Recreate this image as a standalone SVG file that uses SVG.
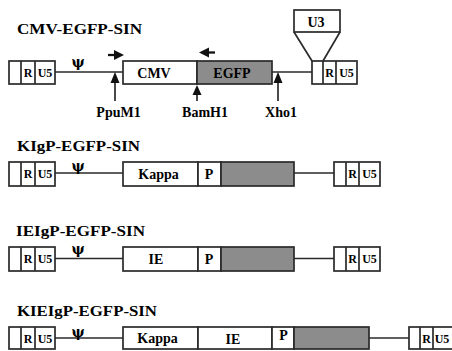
<svg xmlns="http://www.w3.org/2000/svg" width="452" height="351" viewBox="0 0 452 351">
<style>
.t{font-family:"Liberation Serif","Times New Roman",serif;font-weight:bold;fill:#000}
.title{font-size:15px}
.lbl{font-size:14px}
.ltr{font-size:12px}
.psi{font-family:"DejaVu Serif","Liberation Serif",serif;font-weight:bold;font-size:14px;fill:#000}
.box{fill:#fff;stroke:#2a2a2a;stroke-width:1.7}
.gfp{fill:#8c8c8c;stroke:#2a2a2a;stroke-width:1.7}
.ln{stroke:#2a2a2a;stroke-width:1.7;fill:none}
.pr{stroke:#111;stroke-width:2.3;fill:none}
.head{fill:#111}
</style>
<rect width="452" height="351" fill="#fff"/>

<!-- Titles -->
<g id="titles">
<text class="t title" x="17" y="34" textLength="125" lengthAdjust="spacingAndGlyphs">CMV-EGFP-SIN</text>
<text class="t title" x="17" y="151" textLength="123" lengthAdjust="spacingAndGlyphs">KIgP-EGFP-SIN</text>
<text class="t title" x="16" y="236" textLength="129" lengthAdjust="spacingAndGlyphs">IEIgP-EGFP-SIN</text>
<text class="t title" x="17" y="316" textLength="140" lengthAdjust="spacingAndGlyphs">KIEIgP-EGFP-SIN</text>
</g>

<!-- Connectors: backbone lines and arrows -->
<g id="connectors">
<line class="ln" x1="55" y1="72" x2="123" y2="72"/>
<line class="ln" x1="272" y1="72" x2="312" y2="72"/>
<line class="ln" x1="55" y1="173" x2="123" y2="173"/>
<line class="ln" x1="294" y1="173" x2="334" y2="173"/>
<line class="ln" x1="55" y1="258.5" x2="123" y2="258.5"/>
<line class="ln" x1="294" y1="258.5" x2="334" y2="258.5"/>
<line class="ln" x1="55" y1="338" x2="123" y2="338"/>
<line class="ln" x1="369" y1="338" x2="409" y2="338"/>
<!-- U3 expansion -->
<line class="ln" x1="294" y1="32" x2="312" y2="61"/>
<line class="ln" x1="340" y1="32" x2="323" y2="61"/>
<!-- primer arrows -->
<line class="pr" x1="108" y1="55" x2="117" y2="55"/>
<path class="head" d="M124,55 L114,50 L114,60 Z"/>
<line class="pr" x1="215" y1="52.5" x2="206" y2="52.5"/>
<path class="head" d="M199,52.5 L209,47.5 L209,57.5 Z"/>
<!-- restriction sites -->
<line class="ln" x1="115" y1="101" x2="115" y2="80"/>
<path class="head" d="M115,72 L110.5,83 L119.5,83 Z"/>
<line class="ln" x1="197" y1="101" x2="197" y2="92"/>
<path class="head" d="M197,85 L192.5,95 L201.5,95 Z"/>
<line class="ln" x1="278" y1="101" x2="278" y2="80"/>
<path class="head" d="M278,72 L273.5,83 L282.5,83 Z"/>
</g>

<!-- Row 1: CMV-EGFP-SIN -->
<g id="ltr5-1">
<rect class="box" x="9" y="61" width="46" height="23"/>
<line class="ln" x1="21" y1="61" x2="21" y2="84"/>
<line class="ln" x1="35" y1="61" x2="35" y2="84"/>
<text class="t ltr" x="28" y="76.5" text-anchor="middle">R</text>
<text class="t ltr" x="45" y="76.5" text-anchor="middle">U5</text>
</g>
<g id="psi-1"><text class="psi" x="78" y="66.5" text-anchor="middle">ψ</text></g>
<g id="cmv-1">
<rect class="box" x="123" y="61" width="74" height="23"/>
<text class="t lbl" x="154" y="77.5" text-anchor="middle">CMV</text>
</g>
<g id="egfp-1">
<rect class="gfp" x="197" y="61" width="75" height="23"/>
<text class="t lbl" x="232" y="77.5" text-anchor="middle">EGFP</text>
</g>
<g id="ltr3-1">
<rect class="box" x="312" y="61" width="45" height="23"/>
<line class="ln" x1="323" y1="61" x2="323" y2="84"/>
<line class="ln" x1="336" y1="61" x2="336" y2="84"/>
<text class="t ltr" x="329.5" y="76.5" text-anchor="middle">R</text>
<text class="t ltr" x="346.5" y="76.5" text-anchor="middle">U5</text>
</g>
<g id="u3">
<rect class="box" x="294" y="10" width="46" height="22"/>
<text class="t lbl" x="316" y="26.5" text-anchor="middle">U3</text>
</g>
<g id="sites">
<text class="t lbl" x="118.5" y="117" text-anchor="middle">PpuM1</text>
<text class="t lbl" x="205" y="117" text-anchor="middle">BamH1</text>
<text class="t lbl" x="281" y="117" text-anchor="middle">Xho1</text>
</g>

<!-- Row 2: KIgP-EGFP-SIN -->
<g id="ltr5-2">
<rect class="box" x="9" y="162" width="46" height="24"/>
<line class="ln" x1="21" y1="162" x2="21" y2="186"/>
<line class="ln" x1="35" y1="162" x2="35" y2="186"/>
<text class="t ltr" x="28" y="177.5" text-anchor="middle">R</text>
<text class="t ltr" x="45" y="177.5" text-anchor="middle">U5</text>
</g>
<g id="psi-2"><text class="psi" x="78" y="170.5" text-anchor="middle">ψ</text></g>
<g id="kappa-2">
<rect class="box" x="123" y="162" width="75" height="24"/>
<text class="t lbl" x="158.5" y="179" text-anchor="middle">Kappa</text>
</g>
<g id="p-2">
<rect class="box" x="198" y="162" width="23" height="24"/>
<text class="t lbl" x="209" y="179" text-anchor="middle">P</text>
</g>
<g id="egfp-2"><rect class="gfp" x="221" y="162" width="73" height="24"/></g>
<g id="ltr3-2">
<rect class="box" x="334" y="162" width="46" height="24"/>
<line class="ln" x1="346" y1="162" x2="346" y2="186"/>
<line class="ln" x1="359" y1="162" x2="359" y2="186"/>
<text class="t ltr" x="352.5" y="177.5" text-anchor="middle">R</text>
<text class="t ltr" x="369.5" y="177.5" text-anchor="middle">U5</text>
</g>

<!-- Row 3: IEIgP-EGFP-SIN -->
<g id="ltr5-3">
<rect class="box" x="9" y="247" width="46" height="24"/>
<line class="ln" x1="21" y1="247" x2="21" y2="271"/>
<line class="ln" x1="35" y1="247" x2="35" y2="271"/>
<text class="t ltr" x="28" y="262.5" text-anchor="middle">R</text>
<text class="t ltr" x="45" y="262.5" text-anchor="middle">U5</text>
</g>
<g id="psi-3"><text class="psi" x="78" y="254" text-anchor="middle">ψ</text></g>
<g id="ie-3">
<rect class="box" x="123" y="247" width="75" height="24"/>
<text class="t lbl" x="156" y="264" text-anchor="middle">IE</text>
</g>
<g id="p-3">
<rect class="box" x="198" y="247" width="23" height="24"/>
<text class="t lbl" x="209" y="264" text-anchor="middle">P</text>
</g>
<g id="egfp-3"><rect class="gfp" x="221" y="247" width="73" height="24"/></g>
<g id="ltr3-3">
<rect class="box" x="334" y="247" width="46" height="24"/>
<line class="ln" x1="346" y1="247" x2="346" y2="271"/>
<line class="ln" x1="359" y1="247" x2="359" y2="271"/>
<text class="t ltr" x="352.5" y="262.5" text-anchor="middle">R</text>
<text class="t ltr" x="369.5" y="262.5" text-anchor="middle">U5</text>
</g>

<!-- Row 4: KIEIgP-EGFP-SIN -->
<g id="ltr5-4">
<rect class="box" x="9" y="327" width="46" height="22"/>
<line class="ln" x1="21" y1="327" x2="21" y2="349"/>
<line class="ln" x1="35" y1="327" x2="35" y2="349"/>
<text class="t ltr" x="28" y="342.5" text-anchor="middle">R</text>
<text class="t ltr" x="45" y="342.5" text-anchor="middle">U5</text>
</g>
<g id="psi-4"><text class="psi" x="78" y="336.5" text-anchor="middle">ψ</text></g>
<g id="kappa-4">
<rect class="box" x="123" y="327" width="75" height="22"/>
<text class="t lbl" x="157.5" y="343" text-anchor="middle">Kappa</text>
</g>
<g id="ie-4">
<rect class="box" x="198" y="327" width="74" height="22"/>
<text class="t lbl" x="233" y="343.5" text-anchor="middle">IE</text>
</g>
<g id="p-4">
<rect class="box" x="272" y="327" width="22" height="22"/>
<text class="t lbl" x="283.5" y="340" text-anchor="middle">P</text>
</g>
<g id="egfp-4"><rect class="gfp" x="294" y="327" width="75" height="22"/></g>
<g id="ltr3-4">
<rect class="box" x="409" y="327" width="48" height="22"/>
<line class="ln" x1="420" y1="327" x2="420" y2="349"/>
<line class="ln" x1="433" y1="327" x2="433" y2="349"/>
<text class="t ltr" x="426.5" y="342.5" text-anchor="middle">R</text>
<text class="t ltr" x="442" y="342.5" text-anchor="middle">U5</text>
</g>
</svg>
